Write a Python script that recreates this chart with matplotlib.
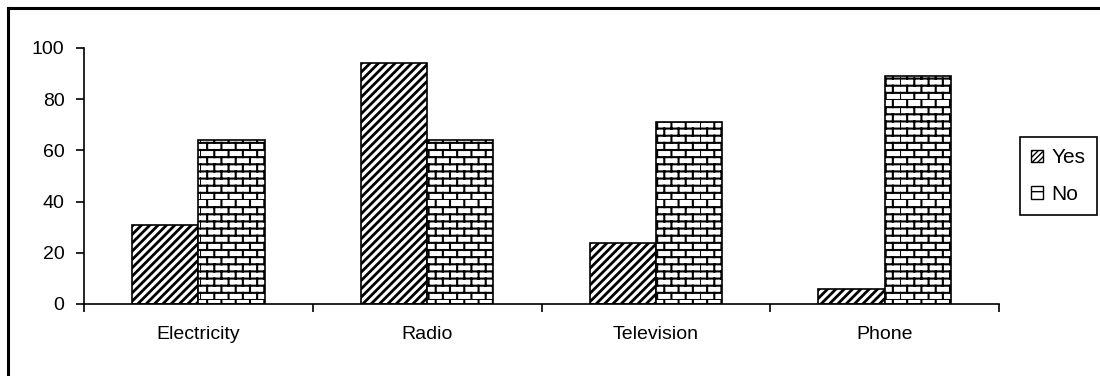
import numpy as np
import matplotlib
import matplotlib.pyplot as plt
import matplotlib.hatch as mhatch
from matplotlib.path import Path
from matplotlib.lines import Line2D
from matplotlib.patches import Patch

plt.rcParams['font.family'] = ['Liberation Sans', 'DejaVu Sans']

## Data ==============================================
categories = ['Electricity', 'Radio', 'Television', 'Phone']
yes_vals = [31, 94, 24, 6]
no_vals = [64, 64, 71, 89]
series_names = ['Yes', 'No']


# brick hatch: staggered rows of short bricks, used with 'b'
class BrickHatch(mhatch.HatchPatternBase):
    rows = 14
    bricks = 7

    def __init__(self, hatch, density):
        self.on = 'b' in hatch
        if self.on:
            self.num_vertices = 2 * self.rows + 2 * self.rows * self.bricks
        else:
            self.num_vertices = 0

    def set_vertices_and_codes(self, vertices, codes):
        h = 1.0 / self.rows
        w = 1.0 / self.bricks
        k = 0
        for r in range(self.rows):
            y0 = r * h
            vertices[k] = (0.0, y0)
            vertices[k + 1] = (1.0, y0)
            codes[k] = Path.MOVETO
            codes[k + 1] = Path.LINETO
            k += 2
            off = (w / 2) if r % 2 else 0.0
            for b in range(self.bricks):
                x = (b * w + off) % 1.0
                vertices[k] = (x, y0)
                vertices[k + 1] = (x, y0 + h)
                codes[k] = Path.MOVETO
                codes[k + 1] = Path.LINETO
                k += 2


mhatch._hatch_types.append(BrickHatch)

## Plot ==============================================
fig = plt.figure(figsize=(11, 3.76), dpi=100)
ax = fig.add_axes([84 / 1100, 1 - 304 / 376, 915 / 1100, 256 / 376])

x = np.arange(len(categories))
bw = 0.29

plt.rcParams['hatch.linewidth'] = 2.0
b1 = ax.bar(x - bw / 2, yes_vals, bw, facecolor='white', edgecolor='black',
            linewidth=1.2, hatch='////', label=series_names[0])
plt.rcParams['hatch.linewidth'] = 1.5
b2 = ax.bar(x + bw / 2, no_vals, bw, facecolor='white', edgecolor='black',
            linewidth=1.2, hatch='b', label=series_names[1])

ax.set_xlim(-0.5, len(categories) - 0.5)
ax.set_ylim(0, 100)
ax.set_yticks(np.arange(0, 101, 20))
ax.set_xticks(x)
ax.set_xticklabels(categories)
ax.set_xticks(np.arange(-0.5, len(categories)), minor=True)
ax.tick_params(axis='x', which='major', length=0, pad=16, labelsize=14)
ax.tick_params(axis='x', which='minor', length=6, width=1.2, direction='out')
ax.tick_params(axis='y', length=6, width=1.2, pad=8, labelsize=14)

ax.spines['top'].set_visible(False)
ax.spines['right'].set_visible(False)
ax.spines['left'].set_linewidth(1.2)
ax.spines['bottom'].set_linewidth(1.2)

plt.rcParams['hatch.linewidth'] = 1.0
handles = [Patch(facecolor='white', edgecolor='black', hatch='//////'),
           Patch(facecolor='white', edgecolor='black', hatch='-')]
leg = fig.legend(handles, series_names, loc='center left',
                 bbox_to_anchor=(1020 / 1100, 1 - 176 / 376),
                 fancybox=False, edgecolor='black', framealpha=1,
                 handlelength=0.55, handleheight=0.55, handletextpad=0.4,
                 labelspacing=0.85, borderpad=0.55, borderaxespad=0,
                 fontsize=15)
leg.get_frame().set_linewidth(1.2)

# outer chart border (left and top edges)
fig.add_artist(Line2D([7.5 / 1100, 7.5 / 1100], [0, 1 - 7.5 / 376],
                      color='black', linewidth=2.2))
fig.add_artist(Line2D([7.5 / 1100, 1], [1 - 7.5 / 376, 1 - 7.5 / 376],
                      color='black', linewidth=2.2))

plt.savefig('out.png', dpi=100)
